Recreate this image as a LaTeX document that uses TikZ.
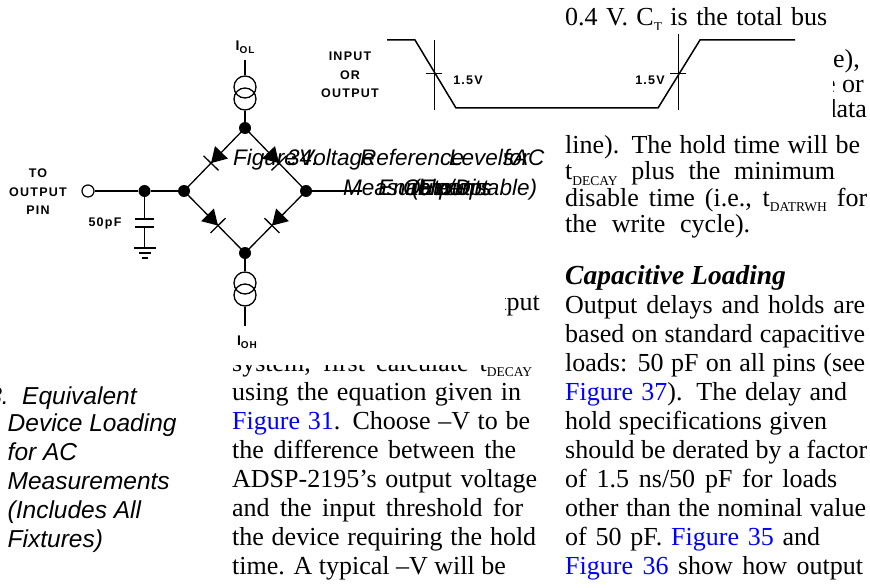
\documentclass[tikz,border=0pt]{standalone}
\usepackage{fontspec}
\setmainfont{Liberation Serif}
\newfontfamily\lblfont{Liberation Sans}[LetterSpace=10]
\newfontfamily\capfont{Liberation Sans}
\usetikzlibrary{calc,decorations.markings}
\definecolor{linkblue}{RGB}{0,0,255}
\newcommand{\sbs}[1]{\raisebox{-0.2em}{\fontsize{13.5}{13.5}\selectfont #1}}
\newcommand{\lnk}[1]{\textcolor{linkblue}{#1}}
\newcommand{\wl}[2]{\makebox[#1pt][s]{#2}}
\tikzset{
 body/.style={anchor=base west, inner sep=0pt, font=\fontsize{26}{28}\selectfont},
 bodyr/.style={anchor=base east, inner sep=0pt, font=\fontsize{26}{28}\selectfont},
 headtxt/.style={anchor=base west, inner sep=0pt, font=\bfseries\itshape\fontsize{27.5}{28}\selectfont},
 captxt/.style={anchor=base west, inner sep=0pt, font=\capfont\itshape\fontsize{24.5}{28}\selectfont},
 captxtr/.style={anchor=base east, inner sep=0pt, font=\capfont\itshape\fontsize{24.5}{28}\selectfont},
 jum/.style={anchor=base west, inner sep=0pt, font=\capfont\itshape\fontsize{22.5}{28}\selectfont},
 lbl/.style={inner sep=0pt, align=center, font=\lblfont\bfseries\fontsize{12.5}{18.5}\selectfont},
 wire/.style={line width=1.3pt},
 dot/.style={circle, fill=black, minimum size=12pt, inner sep=0pt},
 opin/.style={circle, draw, fill=white, line width=1.2pt, minimum size=12pt, inner sep=0pt},
 csrc/.style={circle, draw, line width=1.3pt, minimum size=22pt, inner sep=0pt},
 diode/.style={postaction={decorate, decoration={markings, mark=at position 0.5 with {\fill (-10,-9) -- (-10,9) -- (5,0) -- cycle; \draw[line width=1.3pt] (5,-10.5) -- (5,10.5);}}}},
 wave/.style={line width=1.5pt, line join=miter},
 marker/.style={line width=1pt},
}
\begin{document}
\begin{tikzpicture}[x=1pt,y=-1pt]
\useasboundingbox (0,0) rectangle (870,588);
\clip (0,0) rectangle (870,588);
\fill[white] (0,0) rectangle (870,588);

% ---------- right column, top ----------
\node[body] (r0) at (565,26) {\wl{262}{0.4 V. C\sbs{T} is the total bus}};
\node[bodyr] (r1) at (860,68) {capacitance (per data line),};
\node[bodyr] (r2) at (864,93) {and I\sbs{L} is the total leakage or};
\node[bodyr] (r3) at (867,118) {three-state current (per data};
\node[body] (r4) at (565,153.5) {\wl{295}{line). The hold time will be}};
\node[body] (r5) at (565,180) {\wl{270}{t\sbs{DECAY} plus the minimum}};
\node[body] (r6) at (565,206.5) {\wl{302}{disable time (i.e., t\sbs{DATRWH} for}};
\node[body] (r7) at (565,233) {\wl{185}{the write cycle).}};

% ---------- right column, bottom ----------
\node[headtxt] (rh) at (565,284) {Capacitive Loading};
\node[body] (s1) at (565,313) {\wl{300}{Output delays and holds are}};
\node[body] (s2) at (565,342) {\wl{300}{based on standard capacitive}};
\node[body] (s3) at (565,371) {\wl{300}{loads: 50 pF on all pins (see}};
\node[body] (s4) at (565,400) {\wl{282}{\lnk{Figure 37}). The delay and}};
\node[body] (s5) at (565,429) {\wl{262}{hold specifications given}};
\node[body] (s6) at (565,458) {\wl{302}{should be derated by a factor}};
\node[body] (s7) at (565,487) {\wl{272}{of 1.5 ns/50 pF for loads}};
\node[body] (s8) at (565,516) {\wl{301}{other than the nominal value}};
\node[body] (s9) at (565,545) {\wl{255}{of 50 pF. \lnk{Figure 35} and}};
\node[body] (s10) at (565,574) {\wl{298}{\lnk{Figure 36} show how output}};

% ---------- middle column ----------
\node[bodyr] (m0) at (540,310) {To determine the data output};
\node[body] (m1) at (232,371) {\wl{300}{system, first calculate t\sbs{DECAY}}};
\node[body] (m2) at (232,400) {\wl{289}{using the equation given in}};
\node[body] (m3) at (232,429) {\wl{298}{\lnk{Figure 31}. Choose –V to be}};
\node[body] (m4) at (232,458) {\wl{284}{the difference between the}};
\node[body] (m5) at (232,487) {\wl{305}{ADSP-2195’s output voltage}};
\node[body] (m6) at (232,516) {\wl{291}{and the input threshold for}};
\node[body] (m7) at (232,545) {\wl{304}{the device requiring the hold}};
\node[body] (m8) at (232,574) {time. A typical –V will be};

% ---------- left caption ----------
\node[captxtr] (c0) at (9,404) {Figure 33.};
\node[captxt] (c1) at (22,404) {Equivalent};
\node[captxt] (c2) at (7.5,431.5) {Device Loading};
\node[captxt] (c3) at (7.5,460) {for AC};
\node[captxt] (c4) at (7.5,489) {Measurements};
\node[captxt] (c5) at (7.5,518) {(Includes All};
\node[captxt] (c6) at (7.5,547) {Fixtures)};

% ---------- figure backgrounds hiding text ----------
\fill[white] (0,0) rectangle (505,365);
\fill[white] (560,30) rectangle (833,126);

% ---------- circuit ----------
\node[opin] (pinc) at (88,191) {};
\node[dot] (d1) at (144.5,191) {};
\node[dot] (nl) at (184,191) {};
\node[dot] (nt) at (245,128) {};
\node[dot] (nr) at (306,191) {};
\node[dot] (nb) at (245,253) {};
\coordinate (rend) at (362,191);
\draw[wire] (pinc) -- (d1) -- (nl);
\draw[wire] (nr) -- (rend);
\draw[wire, diode] (nt.center) -- (nl.center);
\draw[wire, diode] (nt.center) -- (nr.center);
\draw[wire, diode] (nl.center) -- (nb.center);
\draw[wire, diode] (nr.center) -- (nb.center);

\node[csrc] (ct1) at (245,87) {};
\node[csrc] (ct2) at (245,99) {};
\coordinate (tt) at (245,60);
\draw[wire] (tt) -- (ct1.north);
\draw[wire] (ct2.south) -- (nt);
\node[csrc] (cb1) at (245,283) {};
\node[csrc] (cb2) at (245,295) {};
\coordinate (bb) at (245,326);
\draw[wire] (nb) -- (cb1.north);
\draw[wire] (cb2.south) -- (bb);

\coordinate (cp1) at (144.5,219);
\coordinate (cp2) at (144.5,227);
\coordinate (gnd) at (144.5,248);
\draw[wire] (d1) -- (cp1);
\draw[wire] (cp2) -- (gnd);
\draw[wire] (135,219) -- (154,219);
\draw[wire] (135,227) -- (154,227);
\draw[wire] (134,248) -- (156,248);
\draw[wire] (139,253) -- (151,253);
\draw[wire] (142,258) -- (148,258);

\node[lbl] (lpin) at (38,192) {TO\\OUTPUT\\PIN};
\node[lbl] (lcap) at (105,223) {50pF};
\node[lbl] (liol) at (245,47) {{\fontsize{14}{14}\selectfont I}\raisebox{-2.5pt}{\fontsize{10}{10}\selectfont OL}};
\node[lbl] (lioh) at (247,342) {{\fontsize{14}{14}\selectfont I}\raisebox{-2.5pt}{\fontsize{10}{10}\selectfont OH}};

% ---------- waveform ----------
\draw[wave] (387,40) -- (415,40) -- (456,108) -- (658,108) -- (700,40) -- (795,40);
\draw[marker] (434,40) -- (434,110);
\draw[marker] (678,34) -- (678,110);
\draw[marker] (426,74) -- (442,74);
\draw[marker] (670,74) -- (686,74);
\node[lbl] (lio) at (350,75) {INPUT\\OR\\OUTPUT};
\node[lbl] (lv1) at (468,80) {1.5V};
\node[lbl] (lv2) at (650,80) {1.5V};

% ---------- overlapping Figure 34 caption ----------
\node[jum] (j1) at (233,166) {Figure};
\node[jum] (j2) at (287,166) {34.};
\node[jum] (j3) at (299,166) {Voltage};
\node[jum] (j4) at (360,166) {Reference};
\node[jum] (j5) at (449,166) {Levels};
\node[jum] (j6) at (503,166) {for};
\node[jum] (j7) at (513,166) {AC};
\node[jum] (k1) at (343,196) {Measurements};
\node[jum] (k2) at (403,196) {Output};
\node[jum] (k3) at (412,196) {(Except};
\node[jum] (k4) at (378,196) {Enable/Disable)};
\end{tikzpicture}
\end{document}
